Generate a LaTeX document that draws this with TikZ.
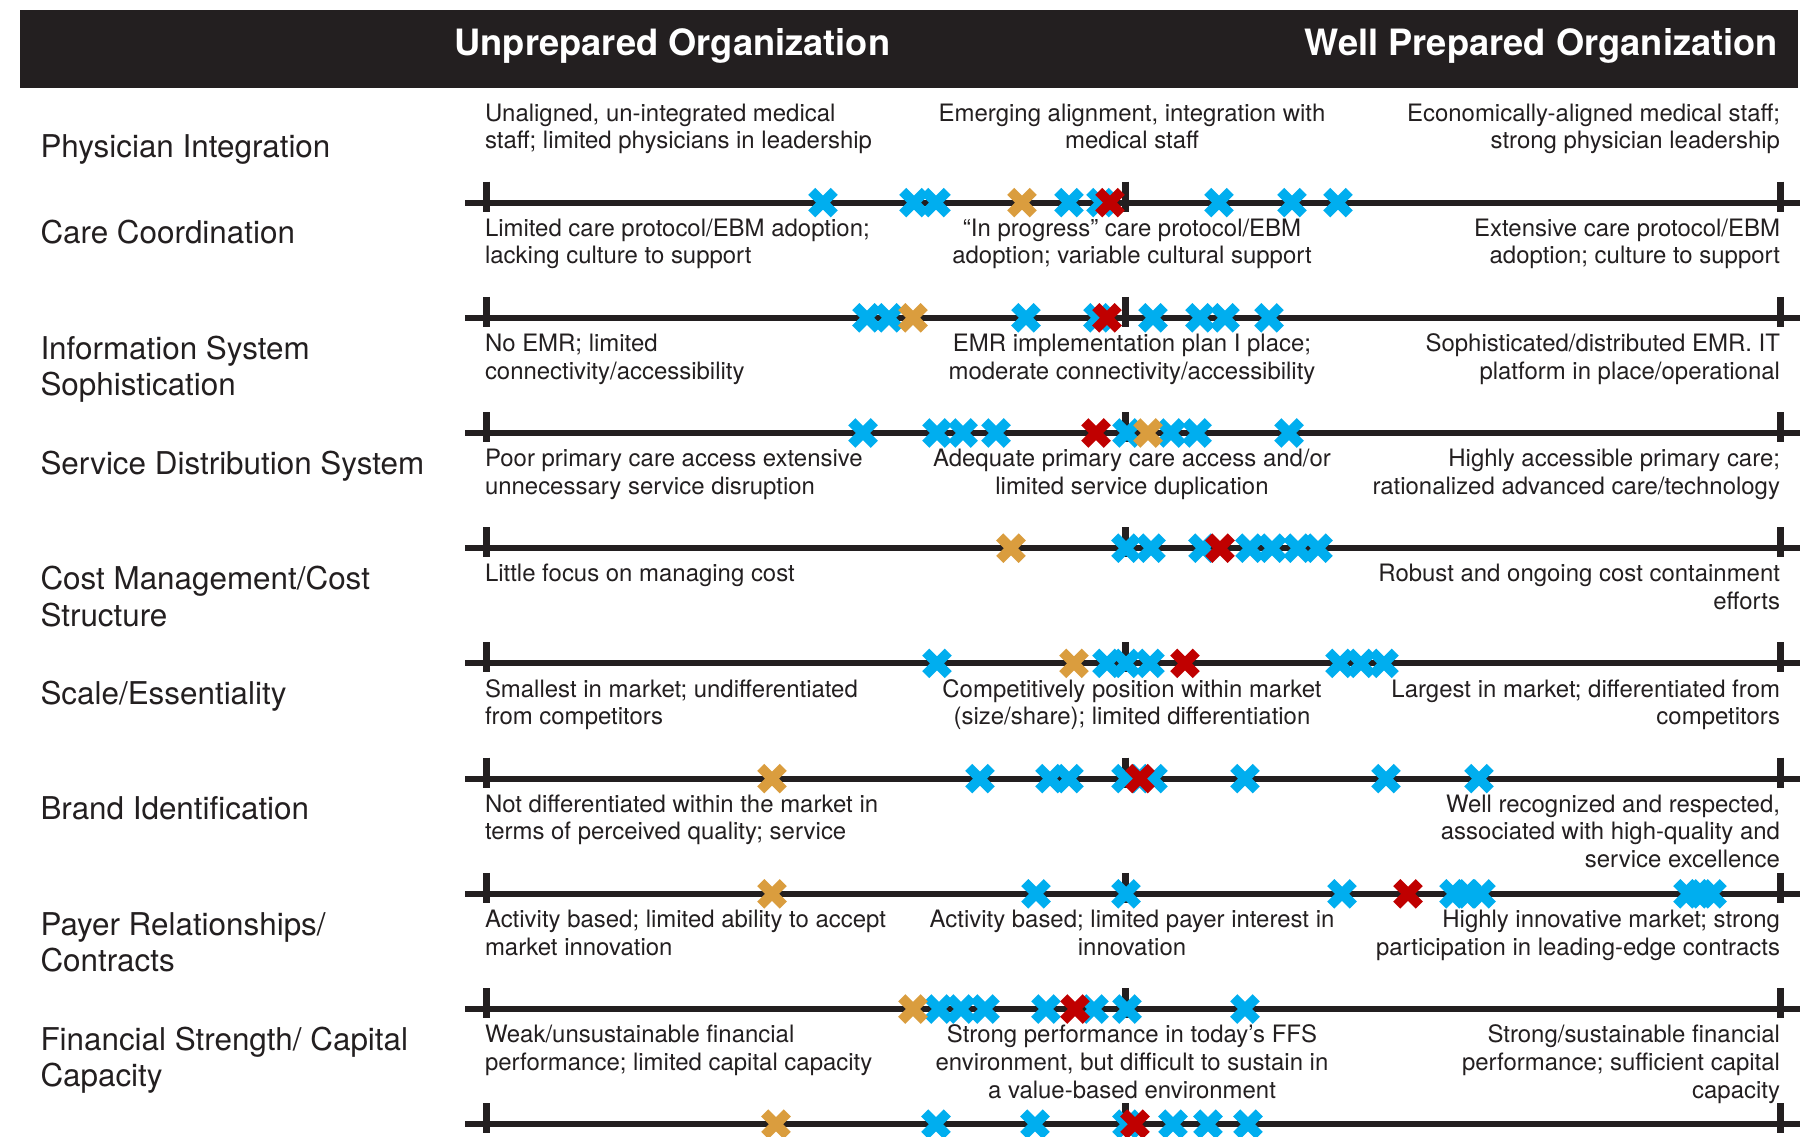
\documentclass[tikz,border=0pt]{standalone}
\usepackage{fontspec}
\setmainfont{TeX Gyre Heros}
\usetikzlibrary{shapes.misc}
\definecolor{ink}{HTML}{231F20}
\definecolor{xblue}{RGB}{0,174,239}
\definecolor{xorange}{RGB}{218,157,62}
\definecolor{xred}{RGB}{192,0,0}
\newcommand\dstrut{\rule{0pt}{20pt}}
\newcommand\lstrut{\rule{0pt}{25pt}}
\newcommand\xmarks[4]{%
  \pgfmathsetmacro\my{202.6+115.2*(#1-1)}%
  \foreach \mx in {#2}{\node[xm,draw=xblue] (b#1-\mx) at (\mx,\my) {};}%
  \foreach \mx in {#3}{\node[xm,draw=xorange] (o#1-\mx) at (\mx,\my) {};}%
  \foreach \mx in {#4}{\node[xm,draw=xred] (r#1-\mx) at (\mx,\my) {};}%
}
\begin{document}
\begin{tikzpicture}[x=1pt,y=-1pt,
  desc/.style={inner sep=0pt,outer sep=0pt,text=ink,font=\fontsize{23.95}{27.7}\selectfont},
  dl/.style={desc,anchor=north west,align=left},
  dc/.style={desc,anchor=north,align=center},
  dr/.style={desc,anchor=north east,align=right},
  lab/.style={inner sep=0pt,outer sep=0pt,anchor=north west,align=left,text=ink,font=\fontsize{31.4}{36.5}\selectfont},
  head/.style={inner sep=0pt,text=white,font=\fontsize{36.25}{40}\selectfont\bfseries},
  scaleline/.style={draw=ink,line width=6pt},
  tickmark/.style={draw=ink,line width=7pt},
  xm/.style={cross out,line width=10pt,minimum size=22.5pt,inner sep=0pt,outer sep=0pt},
]
\useasboundingbox (0,0) rectangle (1813,1136);
\clip (0,0) rectangle (1813,1136);
\fill[white] (0,0) rectangle (1813,1136);
% header
\fill[ink] (19.7,10) rectangle (1798,87.5);
\node[head,anchor=base west] (hl) at (454,55) {Unprepared Organization};
\node[head,anchor=base east] (hr) at (1778,55) {Well Prepared Organization};
% row labels
\node[lab] (l1) at (40.5,157-25) {\lstrut Physician Integration};
\node[lab] (l2) at (40.5,243.9-25) {\lstrut Care Coordination};
\node[lab] (l3) at (40.5,359.1-25) {\lstrut Information System\\Sophistication};
\node[lab] (l4) at (40.5,474.3-25) {\lstrut Service Distribution System};
\node[lab] (l5) at (40.5,589.5-25) {\lstrut Cost Management/Cost\\Structure};
\node[lab] (l6) at (40.5,704.7-25) {\lstrut Scale/Essentiality};
\node[lab] (l7) at (40.5,819.9-25) {\lstrut Brand Identification};
\node[lab] (l8) at (40.5,935.1-25) {\lstrut Payer Relationships/\\Contracts};
\node[lab] (l9) at (40.5,1050.3-25) {\lstrut Financial Strength/ Capital\\Capacity};
% descriptions
\node[dl] (a1) at (485,121-20) {\dstrut Unaligned, un-integrated medical\\staff; limited physicians in leadership};
\node[dc] (c1) at (1132,121-20) {\dstrut Emerging alignment, integration with\\medical staff};
\node[dr] (e1) at (1780,121-20) {\dstrut Economically-aligned medical staff;\\strong physician leadership};
\node[dl] (a2) at (485,236.2-20) {\dstrut Limited care protocol/EBM adoption;\\lacking culture to support};
\node[dc] (c2) at (1132,236.2-20) {\dstrut “In progress” care protocol/EBM\\adoption; variable cultural support};
\node[dr] (e2) at (1780,236.2-20) {\dstrut Extensive care protocol/EBM\\adoption; culture to support};
\node[dl] (a3) at (485,351.4-20) {\dstrut No EMR; limited\\connectivity/accessibility};
\node[dc] (c3) at (1132,351.4-20) {\dstrut EMR implementation plan I place;\\moderate connectivity/accessibility};
\node[dr] (e3) at (1780,351.4-20) {\dstrut Sophisticated/distributed EMR. IT\\platform in place/operational};
\node[dl] (a4) at (485,466.6-20) {\dstrut Poor primary care access extensive\\unnecessary service disruption};
\node[dc] (c4) at (1132,466.6-20) {\dstrut Adequate primary care access and/or\\limited service duplication};
\node[dr] (e4) at (1780,466.6-20) {\dstrut Highly accessible primary care;\\rationalized advanced care/technology};
\node[dl] (a5) at (485,581.8-20) {\dstrut Little focus on managing cost};
\node[dr] (e5) at (1780,581.8-20) {\dstrut Robust and ongoing cost containment\\efforts};
\node[dl] (a6) at (485,697-20) {\dstrut Smallest in market; undifferentiated\\from competitors};
\node[dc] (c6) at (1132,697-20) {\dstrut Competitively position within market\\(size/share); limited differentiation};
\node[dr] (e6) at (1780,697-20) {\dstrut Largest in market; differentiated from\\competitors};
\node[dl] (a7) at (485,812.2-20) {\dstrut Not differentiated within the market in\\terms of perceived quality; service};
\node[dr] (e7) at (1780,812.2-20) {\dstrut Well recognized and respected,\\associated with high-quality and\\service excellence};
\node[dl] (a8) at (485,927.4-20) {\dstrut Activity based; limited ability to accept\\market innovation};
\node[dc] (c8) at (1132,927.4-20) {\dstrut Activity based; limited payer interest in\\innovation};
\node[dr] (e8) at (1780,927.4-20) {\dstrut Highly innovative market; strong\\participation in leading-edge contracts};
\node[dl] (a9) at (485,1042.6-20) {\dstrut Weak/unsustainable financial\\performance; limited capital capacity};
\node[dc] (c9) at (1132,1042.6-20) {\dstrut Strong performance in today’s FFS\\environment, but difficult to sustain in\\a value-based environment};
\node[dr] (e9) at (1780,1042.6-20) {\dstrut Strong/sustainable financial\\performance; sufficient capital\\capacity};
% scale lines
\foreach \k in {0,...,8}{
  \pgfmathsetmacro\yy{202.6+115.2*\k}
  \draw[scaleline] (465,\yy) -- (1800,\yy);
  \foreach \tx in {486,1125,1780}{\draw[tickmark] (\tx,\yy-21) -- (\tx,\yy+9);}
}
% markers
\xmarks{1}{823,914,936,1069,1101,1219,1292,1338}{1022}{1110}
\xmarks{2}{867,889,1026,1098,1153,1200,1225,1269}{913}{1107}
\xmarks{3}{863,937,963,996,1127,1171,1197,1289}{1148}{1096}
\xmarks{4}{1126,1151,1203,1250,1272,1298,1318}{1011}{1220}
\xmarks{5}{937,1107,1126,1150,1340,1361,1384}{1074}{1185}
\xmarks{6}{980,1050,1069,1126,1153,1245,1386,1479}{772}{1140}
\xmarks{7}{1036,1126,1342,1454,1467,1481,1688,1700,1712}{772}{1408}
\xmarks{8}{939,961,985,1046,1094,1127,1245}{913}{1075}
\xmarks{9}{936,1035,1127,1173,1208,1248}{776}{1135}
\end{tikzpicture}
\end{document}
